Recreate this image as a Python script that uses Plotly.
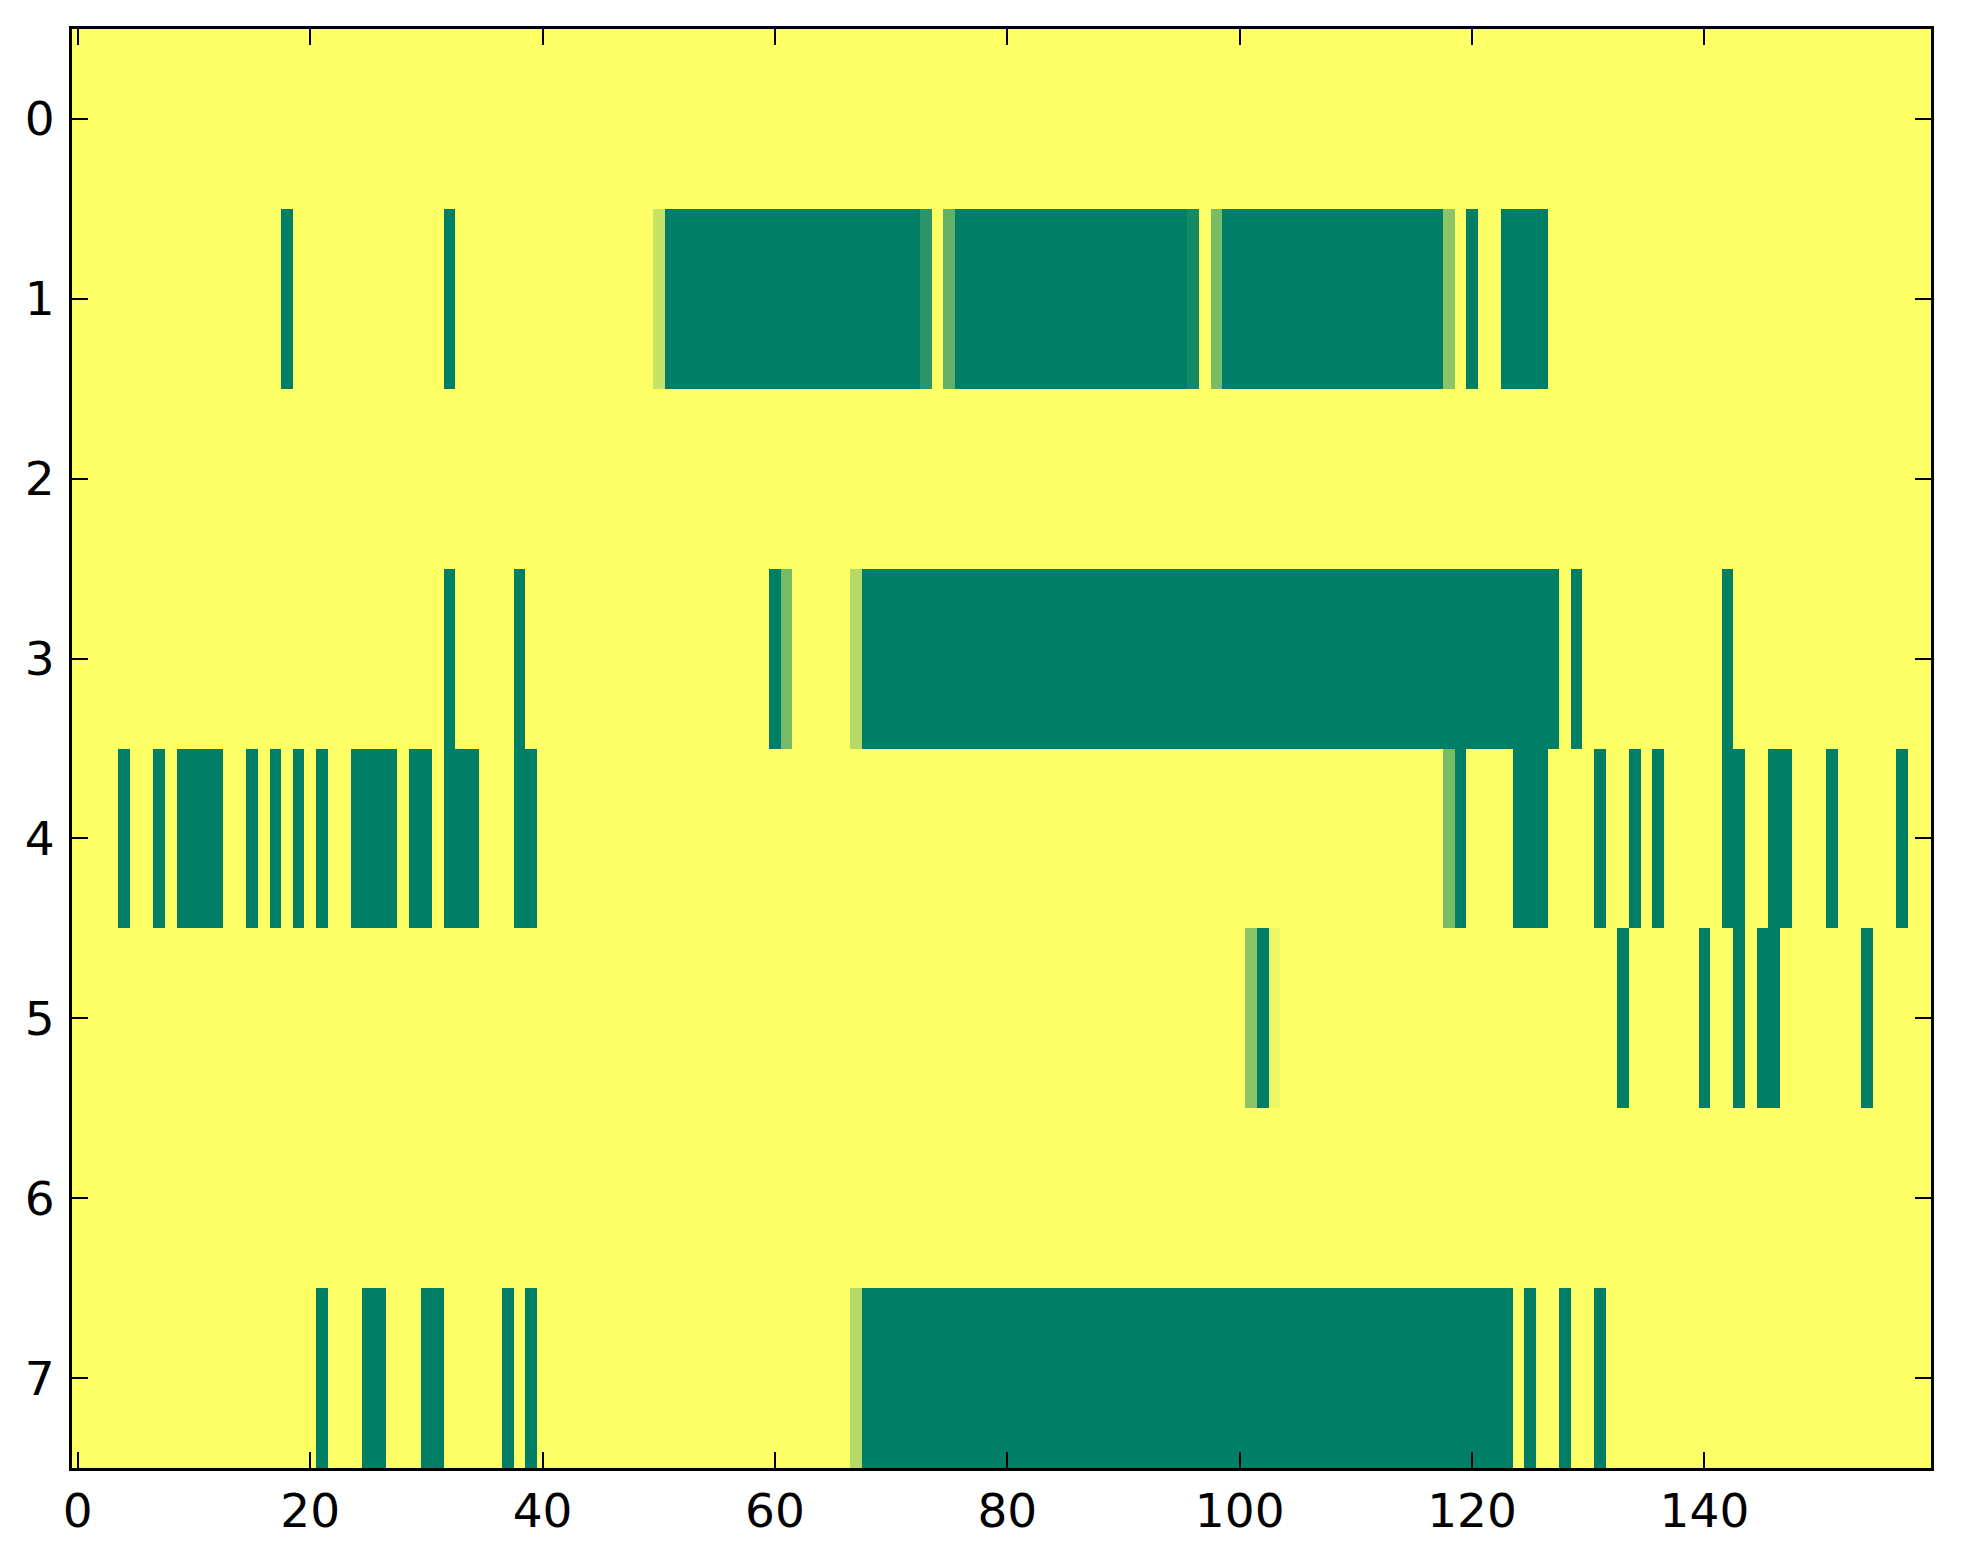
import plotly.graph_objects as go

# grid size: 8 rows x 160 columns, values 0..1 (matplotlib summer_r look)
n_rows = 8
n_cols = 160

# fully "on" cells, as inclusive column runs (start, end) per row
row1_runs = [(18, 18), (32, 32), (51, 72), (76, 95), (99, 117), (120, 120), (123, 126)]
row3_runs = [(32, 32), (38, 38), (60, 60), (68, 127), (129, 129), (142, 142)]
row4_runs = [(4, 4), (7, 7), (9, 12), (15, 15), (17, 17), (19, 19), (21, 21),
             (24, 27), (29, 30), (32, 34), (38, 39), (119, 119), (124, 126),
             (131, 131), (134, 134), (136, 136), (142, 143), (146, 147),
             (151, 151), (157, 157)]
row5_runs = [(102, 102), (133, 133), (140, 140), (143, 143), (145, 146), (154, 154)]
row7_runs = [(21, 21), (25, 26), (30, 31), (37, 37), (39, 39), (68, 123),
             (125, 125), (128, 128), (131, 131)]

# partial cells: column -> value
row1_partial = {50: 0.22, 73: 0.83, 75: 0.61, 96: 0.92, 98: 0.52, 118: 0.45}
row3_partial = {61: 0.53, 67: 0.29}
row4_partial = {118: 0.53}
row5_partial = {101: 0.45, 103: 0.07}
row7_partial = {67: 0.29}

x_ticks = [0, 20, 40, 60, 80, 100, 120, 140]
y_ticks = [0, 1, 2, 3, 4, 5, 6, 7]

rows = {
    1: (row1_runs, row1_partial),
    3: (row3_runs, row3_partial),
    4: (row4_runs, row4_partial),
    5: (row5_runs, row5_partial),
    7: (row7_runs, row7_partial),
}

# build the matrix
z = [[0.0] * n_cols for _ in range(n_rows)]
for r, (runs, partial) in rows.items():
    for a, b in runs:
        for c in range(a, b + 1):
            z[r][c] = 1.0
    for c, v in partial.items():
        z[r][c] = v

fig = go.Figure()

fig.add_trace(go.Heatmap(
    z=z,
    x=list(range(n_cols)),
    y=list(range(n_rows)),
    colorscale=[[0, "#ffff66"], [1, "#007f66"]],
    zmin=0,
    zmax=1,
    showscale=False,
    hoverinfo="skip"
))

axis_style = dict(
    showline=True,
    linecolor="black",
    linewidth=3,
    mirror="ticks",
    ticks="inside",
    ticklen=16,
    tickwidth=2,
    tickcolor="black",
    showgrid=False,
    zeroline=False,
)

fig.update_xaxes(
    range=[-0.5, 159.5],
    tickvals=x_ticks,
    ticktext=[str(t) for t in x_ticks],
    **axis_style
)
fig.update_yaxes(
    range=[7.5, -0.5],
    tickvals=y_ticks,
    ticktext=[str(t) for t in y_ticks],
    ticklabelstandoff=5,
    **axis_style
)

fig.update_layout(
    width=1963,
    height=1564,
    margin=dict(l=64, r=40, t=21, b=104),
    paper_bgcolor="white",
    plot_bgcolor="white",
    font=dict(family="DejaVu Sans", size=47, color="black"),
)

fig.write_html("out.html")
